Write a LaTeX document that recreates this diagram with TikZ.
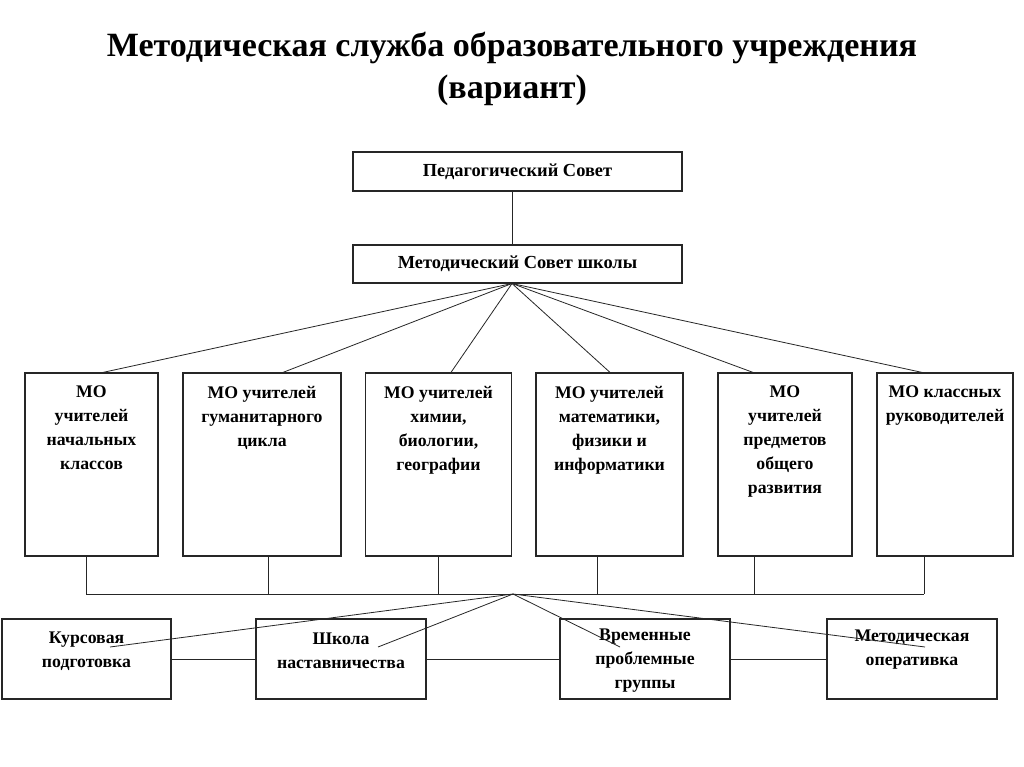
\documentclass[tikz,border=0pt]{standalone}
\usepackage{fontspec}
\setmainfont{Liberation Serif}
\usetikzlibrary{calc}
\begin{document}
\begin{tikzpicture}[x=0.75pt,y=-0.75pt,
  box/.style={draw=black!85,line width=0.9pt,rectangle,inner sep=0pt},
  tx/.style={font=\bfseries\fontsize{13.3}{18}\selectfont,align=center,inner sep=0pt},
  conn/.style={draw=black!85,line width=0.6pt}]
\useasboundingbox[fill=white] (0,0) rectangle (1024,767);
% title
\node[font=\bfseries\fontsize{25.5}{31.5}\selectfont,align=center] (title) at (512,69)
  {Методическая служба образовательного учреждения\\(вариант)};
% top boxes
\node[box,minimum width=329*0.75pt,minimum height=39*0.75pt] (ps) at (517.5,171.5) {};
\node[tx,font=\bfseries\fontsize{13.8}{18}\selectfont] (pst) at (ps) {Педагогический Совет};
\node[box,minimum width=329*0.75pt,minimum height=38*0.75pt] (ms) at (517.5,264) {};
\node[tx,font=\bfseries\fontsize{13.8}{18}\selectfont] (mst) at (ms) {Методический Совет школы};
\draw[conn] (512,191) coordinate (a1) -- (512,245) coordinate (a2);
\coordinate (apex) at (512,283.5);
% MO boxes (y 373..556)
\node[box,minimum width=133*0.75pt,minimum height=183*0.75pt] (mo1) at (91.5,464.5) {};
\node[box,minimum width=158*0.75pt,minimum height=183*0.75pt] (mo2) at (262,464.5) {};
\node[box,minimum width=146*0.75pt,minimum height=183*0.75pt] (mo3) at (438.5,464.5) {};
\node[box,minimum width=147*0.75pt,minimum height=183*0.75pt] (mo4) at (609.5,464.5) {};
\node[box,minimum width=134*0.75pt,minimum height=183*0.75pt] (mo5) at (785,464.5) {};
\node[box,minimum width=136*0.75pt,minimum height=183*0.75pt] (mo6) at (945,464.5) {};
\node[tx,anchor=north] (mo1t) at ([yshift=-10pt]mo1.north) {МО\\учителей\\начальных\\классов};
\node[tx,anchor=north] (mo2t) at ([yshift=-10pt]mo2.north) {МО учителей\\гуманитарного\\цикла};
\node[tx,anchor=north] (mo3t) at ([yshift=-10pt]mo3.north) {МО учителей\\химии,\\биологии,\\географии};
\node[tx,anchor=north] (mo4t) at ([yshift=-10pt]mo4.north) {МО учителей\\математики,\\физики и\\информатики};
\node[tx,anchor=north] (mo5t) at ([yshift=-10pt]mo5.north) {МО\\учителей\\предметов\\общего\\развития};
\node[tx,anchor=north] (mo6t) at ([yshift=-10pt]mo6.north) {МО классных\\руководителей};
% fan to MO
\draw[conn] (apex) -- ([xshift=11.5*0.75pt]mo1.north);
\draw[conn] (apex) -- ([xshift=21*0.75pt]mo2.north);
\draw[conn] (apex) -- ([xshift=12.5*0.75pt]mo3.north);
\draw[conn] (apex) -- ([xshift=0.5*0.75pt]mo4.north);
\draw[conn] (apex) -- ([xshift=-32*0.75pt]mo5.north);
\draw[conn] (apex) -- ([xshift=-23*0.75pt]mo6.north);
% collector bar
\coordinate (b1) at (86,594);
\coordinate (b6) at (924,594);
\draw[conn] ([xshift=-5.5*0.75pt]mo1.south) -- (b1);
\draw[conn] ([xshift=6*0.75pt]mo2.south) -- (268,594);
\draw[conn] ([xshift=-0.5*0.75pt]mo3.south) -- (438,594);
\draw[conn] ([xshift=-12.5*0.75pt]mo4.south) -- (597,594);
\draw[conn] ([xshift=-31*0.75pt]mo5.south) -- (754,594);
\draw[conn] ([xshift=-21*0.75pt]mo6.south) -- (b6);
\draw[conn] (b1) -- (b6);
\coordinate (apex2) at (513,594);
% bottom boxes (y 619..699)
\node[box,minimum width=169*0.75pt,minimum height=80*0.75pt] (k1) at (86.5,659) {};
\node[box,minimum width=170*0.75pt,minimum height=80*0.75pt] (k2) at (341,659) {};
\node[box,minimum width=170*0.75pt,minimum height=80*0.75pt] (k3) at (645,659) {};
\node[box,minimum width=170*0.75pt,minimum height=80*0.75pt] (k4) at (912,659) {};
\node[tx] (k1t) at ([yshift=6pt]k1) {Курсовая\\подготовка};
\node[tx] (k2t) at ([yshift=6.5pt]k2) {Школа\\наставничества};
\node[tx] (k3t) at ([yshift=-1pt]k3) {Временные\\проблемные\\группы};
\node[tx] (k4t) at ([yshift=7pt]k4) {Методическая\\оперативка};
\draw[conn] (k1) -- (k2);
\draw[conn] (k2) -- (k3);
\draw[conn] (k3) -- (k4);
% fan to bottom (free ends inside boxes)
\draw[conn] (apex2) -- ([xshift=23.5*0.75pt,yshift=12*0.75pt]k1.center) coordinate (e1);
\draw[conn] (apex2) -- ([xshift=37*0.75pt,yshift=12*0.75pt]k2.center) coordinate (e2);
\draw[conn] (apex2) -- ([xshift=-25*0.75pt,yshift=12*0.75pt]k3.center) coordinate (e3);
\draw[conn] (apex2) -- ([xshift=13*0.75pt,yshift=12*0.75pt]k4.center) coordinate (e4);
\end{tikzpicture}
\end{document}
